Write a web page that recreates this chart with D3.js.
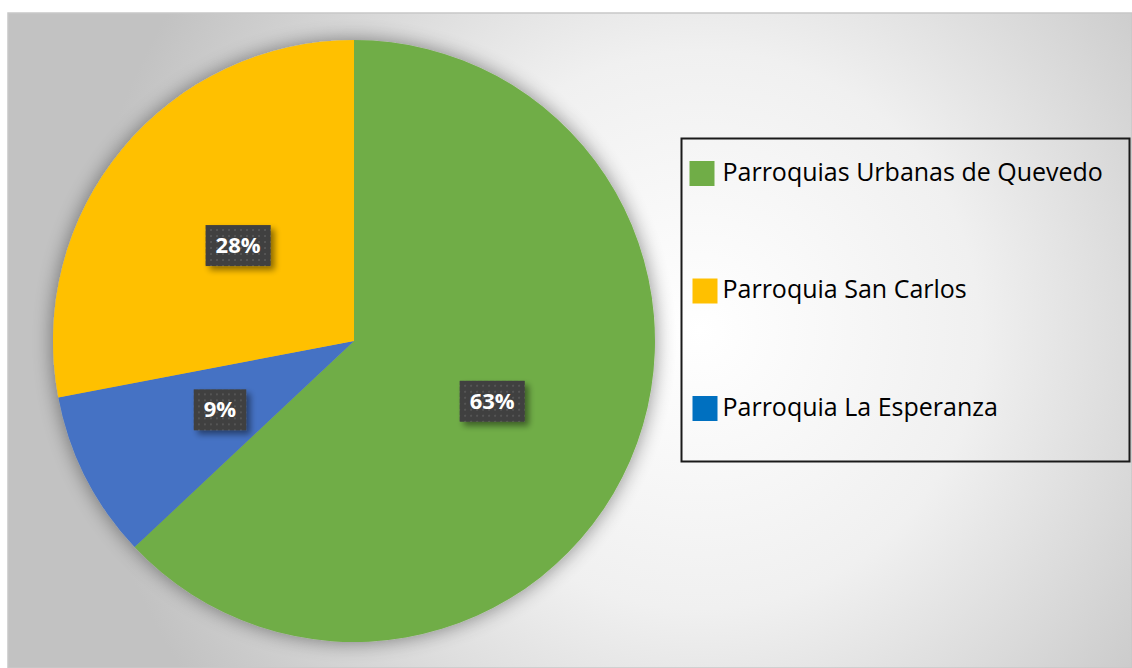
<!DOCTYPE html>
<html>
<head>
<meta charset="utf-8">
<script src="https://cdn.jsdelivr.net/npm/d3@7"></script>
<style>
  body { margin: 0; background: #fff; }
  svg { display: block; }
</style>
</head>
<body>
<div id="canvas"></div>
<script>
// data
const parishes = ["Parroquias Urbanas de Quevedo", "Parroquia La Esperanza", "Parroquia San Carlos"];
const shares = [63, 9, 28];
const sliceColors = ["#70AD47", "#4472C4", "#FFC000"];
const legendOrder = ["Parroquias Urbanas de Quevedo", "Parroquia San Carlos", "Parroquia La Esperanza"];
const legendColors = ["#70AD47", "#FFC000", "#0070C0"];

const width = 1132, height = 668;
const frame = {x: 8, y: 13, w: 1124, h: 655};

let svg = d3.select("#canvas")
    .append("svg")
    .attr("width", width)
    .attr("height", height);

let defs = svg.append("defs");

// background radial gradient
let bg = defs.append("radialGradient")
    .attr("id", "bgGrad")
    .attr("gradientUnits", "userSpaceOnUse")
    .attr("cx", 700).attr("cy", 330).attr("r", 620);
bg.append("stop").attr("offset", "0%").attr("stop-color", "#ffffff");
bg.append("stop").attr("offset", "45%").attr("stop-color", "#f0f0f0");
bg.append("stop").attr("offset", "100%").attr("stop-color", "#c2c2c2");

// pie shadow
let sh = defs.append("filter").attr("id", "pieShadow")
    .attr("x", "-20%").attr("y", "-20%").attr("width", "140%").attr("height", "140%");
sh.append("feGaussianBlur").attr("in", "SourceAlpha").attr("stdDeviation", 10).attr("result", "b");
sh.append("feComponentTransfer").attr("in", "b").attr("result", "b2")
    .append("feFuncA").attr("type", "linear").attr("slope", 0.45);
let shm = sh.append("feMerge");
shm.append("feMergeNode").attr("in", "b2");
shm.append("feMergeNode").attr("in", "SourceGraphic");

// label shadow
let lsh = defs.append("filter").attr("id", "lblShadow")
    .attr("x", "-30%").attr("y", "-30%").attr("width", "170%").attr("height", "170%");
lsh.append("feGaussianBlur").attr("in", "SourceAlpha").attr("stdDeviation", 3).attr("result", "b");
lsh.append("feOffset").attr("in", "b").attr("dx", 4).attr("dy", 4).attr("result", "o");
lsh.append("feComponentTransfer").attr("in", "o").attr("result", "o2")
    .append("feFuncA").attr("type", "linear").attr("slope", 0.45);
let lshm = lsh.append("feMerge");
lshm.append("feMergeNode").attr("in", "o2");
lshm.append("feMergeNode").attr("in", "SourceGraphic");

// dotted pattern for label boxes
let pat = defs.append("pattern").attr("id", "dots")
    .attr("patternUnits", "userSpaceOnUse")
    .attr("width", 6).attr("height", 6);
pat.append("rect").attr("width", 6).attr("height", 6).attr("fill", "#3f3f3f");
pat.append("rect").attr("x", 2).attr("y", 2).attr("width", 2).attr("height", 2).attr("fill", "#555555");

svg.append("rect")
    .attr("x", frame.x).attr("y", frame.y)
    .attr("width", frame.w).attr("height", frame.h)
    .attr("fill", "url(#bgGrad)")
    .attr("stroke", "#c8c8c8")
    .attr("stroke-width", 1.5);

// pie
const cx = 354, cy = 341, radius = 301;
let pie = d3.pie().sort(null).value(d => d.value);
let arcs = pie(parishes.map((p, i) => ({name: p, value: shares[i], color: sliceColors[i]})));
let arc = d3.arc().innerRadius(0).outerRadius(radius);
let labelArc = d3.arc().innerRadius(radius / 2).outerRadius(radius / 2);

let pieG = svg.append("g")
    .attr("transform", "translate(" + cx + "," + cy + ")");

pieG.append("g")
    .attr("filter", "url(#pieShadow)")
    .selectAll("path")
    .data(arcs)
    .enter()
    .append("path")
    .attr("d", arc)
    .attr("fill", d => d.data.color);

let total = d3.sum(shares);
let lbl = pieG.selectAll(".lbl")
    .data(arcs)
    .enter()
    .append("g")
    .attr("class", "lbl")
    .attr("transform", d => "translate(" + labelArc.centroid(d) + ")");

lbl.append("text")
    .attr("text-anchor", "middle")
    .attr("dy", "0.36em")
    .attr("fill", "#ffffff")
    .style("font-family", "'Open Sans', 'Noto Sans', sans-serif")
    .style("font-weight", "bold")
    .style("font-size", "22px")
    .text(d => Math.round(d.data.value / total * 100) + "%")
    .each(function () {
        let b = this.getBBox();
        d3.select(this.parentNode).insert("rect", "text")
            .attr("x", b.x - 10).attr("y", -20)
            .attr("width", b.width + 20).attr("height", 41)
            .attr("fill", "url(#dots)")
            .attr("filter", "url(#lblShadow)");
    });

// legend
const lg = {x: 681.5, y: 138.5, w: 448, h: 323};
let legend = svg.append("g");
legend.append("rect")
    .attr("x", lg.x).attr("y", lg.y)
    .attr("width", lg.w).attr("height", lg.h)
    .attr("fill", "none")
    .attr("stroke", "#1a1a1a")
    .attr("stroke-width", 2);

let ly = d3.scalePoint()
    .domain(legendOrder)
    .range([173, 408]);

let item = legend.selectAll(".item")
    .data(legendOrder)
    .enter()
    .append("g")
    .attr("class", "item")
    .attr("transform", d => "translate(" + (lg.x + 8) + "," + ly(d) + ")");

item.append("rect")
    .attr("x", (d, i) => i === 0 ? 0 : 3)
    .attr("y", -12)
    .attr("width", 25).attr("height", 25)
    .attr("fill", (d, i) => legendColors[i]);

item.append("text")
    .attr("x", 33)
    .attr("dy", "0.3em")
    .attr("fill", "#000")
    .style("font-family", "'Open Sans', 'Noto Sans', sans-serif")
    .style("font-size", "25px")
    .text(d => d);
</script>
</body>
</html>
